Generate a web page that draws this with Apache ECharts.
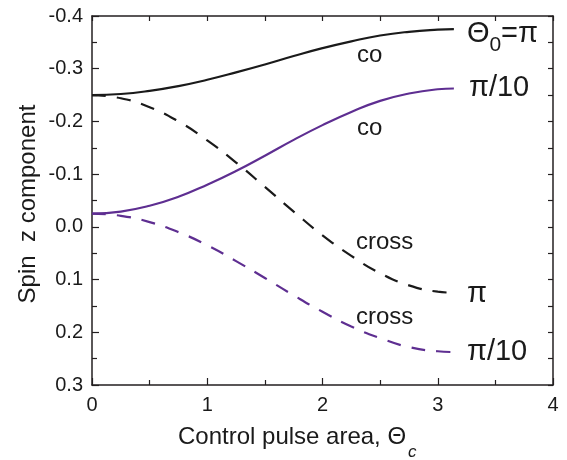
<!DOCTYPE html>
<html><head><meta charset="utf-8">
<script src="https://cdn.jsdelivr.net/npm/echarts@6/dist/echarts.min.js"></script>
<style>html,body{margin:0;padding:0;background:#fff}#c{width:567px;height:460px}</style>
</head><body><div id="c"></div>
<script>
var thetaC = [0, 0.25, 0.5, 0.75, 1.0, 1.25, 1.5, 1.75, 2.0, 2.25, 2.5, 2.75, 3.0, 3.14];
var coPi    = [-0.250, -0.252, -0.258, -0.267, -0.279, -0.293, -0.308, -0.324, -0.339, -0.352, -0.363, -0.370, -0.374, -0.375];
var crossPi = [-0.250, -0.244, -0.227, -0.200, -0.164, -0.122, -0.076, -0.029, 0.016, 0.055, 0.088, 0.111, 0.123, 0.125];
var coPi10    = [-0.025, -0.029, -0.040, -0.057, -0.080, -0.106, -0.135, -0.165, -0.193, -0.218, -0.239, -0.253, -0.261, -0.2625];
var crossPi10 = [-0.025, -0.021, -0.009, 0.010, 0.035, 0.065, 0.097, 0.130, 0.161, 0.189, 0.211, 0.228, 0.236, 0.2375];
var xTicks = [0, 1, 2, 3, 4];
var yTicks = [-0.4, -0.3, -0.2, -0.1, 0.0, 0.1, 0.2, 0.3];

var FONT = '"Liberation Sans", Arial, sans-serif';
var BLACK = '#1a1a1a', PURPLE = '#5e2e91', TXT = '#1a1a1a';
function pairs(ys){ return thetaC.map(function(x,i){ return [x, ys[i]]; }); }

var chart = echarts.init(document.getElementById('c'));
var axisLineStyle = {color: '#231f20', width: 1.5};
var tickStyle = {color: '#231f20', width: 1.2};
function endLbl(fmt, rich, dx, dy){
  return {show: true, formatter: fmt, color: TXT, fontFamily: FONT, fontSize: 29,
          offset: [dx, dy], rich: rich || {}};
}
var rich0 = {
  t: {fontSize: 29, fontFamily: FONT, color: TXT},
  s: {fontSize: 21, fontFamily: FONT, color: TXT, padding: [22, 0, 0, 0]}
};
function note(txt, x, y){
  return {type: 'text', x: x, y: y, silent: true,
    style: {text: txt, fontSize: 24, fontFamily: FONT, fill: TXT, align: 'left', verticalAlign: 'middle'}};
}
var dash = [14, 11];
chart.setOption({
  animation: false,
  grid: {left: 92, right: 14, top: 16, bottom: 75},
  xAxis: [{
    type: 'value', min: xTicks[0], max: xTicks[xTicks.length-1], interval: 1,
    axisLine: {show: true, onZero: false, lineStyle: axisLineStyle},
    axisTick: {show: true, inside: true, length: 7, lineStyle: tickStyle},
    minorTick: {show: true, splitNumber: 2, length: 5, lineStyle: tickStyle},
    splitLine: {show: false},
    axisLabel: {color: TXT, fontSize: 20, fontFamily: FONT, margin: 10,
      formatter: function(v){ return xTicks.indexOf(v) >= 0 ? String(v) : ''; }}
  }, {
    type: 'value', position: 'top', min: 0, max: 4, interval: 0.5,
    axisLine: {show: true, onZero: false, lineStyle: axisLineStyle},
    axisTick: {show: true, inside: true, length: 5, lineStyle: tickStyle},
    axisLabel: {show: false}, splitLine: {show: false}
  }],
  yAxis: [{
    type: 'value', inverse: true, min: -0.4, max: 0.3, interval: 0.1,
    axisLine: {show: true, onZero: false, lineStyle: axisLineStyle},
    axisTick: {show: true, inside: true, length: 7, lineStyle: tickStyle},
    minorTick: {show: true, splitNumber: 2, length: 5, lineStyle: tickStyle},
    splitLine: {show: false},
    axisLabel: {color: TXT, fontSize: 20, fontFamily: FONT, margin: 9,
      formatter: function(v){ return v.toFixed(1); }}
  }, {
    type: 'value', position: 'right', inverse: true, min: -0.4, max: 0.3, interval: 0.05,
    axisLine: {show: true, onZero: false, lineStyle: axisLineStyle},
    axisTick: {show: true, inside: true, length: 5, lineStyle: tickStyle},
    axisLabel: {show: false}, splitLine: {show: false}
  }],
  series: [
    {type: 'line', data: pairs(coPi), smooth: true, showSymbol: false,
     lineStyle: {color: BLACK, width: 2.2},
     endLabel: endLbl('{t|Θ}{s|0}{t|=π}', rich0, 5, 5)},
    {type: 'line', data: pairs(crossPi), smooth: true, showSymbol: false,
     lineStyle: {color: BLACK, width: 2.2, type: dash},
     endLabel: endLbl('π', null, 5, 1)},
    {type: 'line', data: pairs(coPi10), smooth: true, showSymbol: false,
     lineStyle: {color: PURPLE, width: 2.2},
     endLabel: endLbl('π/10', null, 7, 0)},
    {type: 'line', data: pairs(crossPi10), smooth: true, showSymbol: false,
     lineStyle: {color: PURPLE, width: 2.2, type: dash},
     endLabel: endLbl('π/10', null, 5, 0)}
  ],
  graphic: [
    note('co', 357, 55),
    note('co', 357, 128),
    note('cross', 356, 242),
    note('cross', 356, 317),
    {type: 'text', x: 28, y: 204, rotation: Math.PI / 2, silent: true,
     style: {text: 'Spin  z component', fontSize: 24, fontFamily: FONT, fill: TXT,
             align: 'center', verticalAlign: 'middle'}},
    {type: 'text', x: 178, y: 437, silent: true,
     style: {text: 'Control pulse area, Θ', fontSize: 24, fontFamily: FONT, fill: TXT,
             align: 'left', verticalAlign: 'middle'}},
    {type: 'text', x: 408, y: 452, silent: true,
     style: {text: 'c', fontSize: 17, fontFamily: FONT, fontStyle: 'italic', fill: TXT,
             align: 'left', verticalAlign: 'middle'}}
  ]
});
</script></body></html>
